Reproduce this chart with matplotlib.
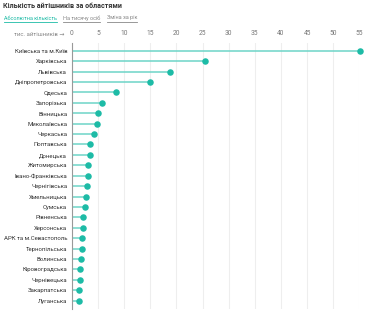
import matplotlib
matplotlib.use("Agg")
import matplotlib.pyplot as plt

plt.rcParams['font.family'] = ['Roboto', 'DejaVu Sans']

regions = ['Київська та м.Київ', 'Харківська', 'Львівська', 'Дніпропетровська',
           'Одеська', 'Запорізька', 'Вінницька', 'Миколаївська', 'Черкаська',
           'Полтавська', 'Донецька', 'Житомирська', 'Івано-Франківська',
           'Чернігівська', 'Хмельницька', 'Сумська', 'Рівненська', 'Херсонська',
           'АРК та м.Севастополь', 'Тернопільська', 'Волинська', 'Кіровоградська',
           'Чернівецька', 'Закарпатська', 'Луганська']
it_workers = [55.1, 25.5, 18.7, 15.0, 8.4, 5.8, 4.9, 4.7, 4.2, 3.4, 3.5, 3.1,
              3.0, 2.9, 2.6, 2.4, 2.2, 2.1, 2.0, 1.9, 1.7, 1.6, 1.6, 1.3, 1.3]
ticks = [0, 5, 10, 15, 20, 25, 30, 35, 40, 45, 50, 55]
tabs = ['Абсолютна кількість', 'На тисячу осіб', 'Зміна за рік']

W, H = 382, 324
fig = plt.figure(figsize=(W / 100, H / 100), dpi=100)
ax = fig.add_axes([72 / W, 1 - 309 / H, (359.3 - 72) / W, (309 - 43) / H])

ys = list(range(len(regions)))
ax.hlines(ys, 0, it_workers, color='#6dd5c8', lw=1.1, zorder=2)
ax.scatter(it_workers, ys, s=22, color='#1dbba6', zorder=3, clip_on=False, linewidths=0)

ax.set_xlim(0, 55)
ax.set_ylim(24.8, -0.74)
ax.set_xticks(ticks)
ax.set_yticks(ys)
ax.set_yticklabels(regions, fontsize=4.3, color='#333333')
ax.xaxis.tick_top()
ax.tick_params(axis='x', length=0, pad=4, labelsize=4.8, labelcolor='#777777')
ax.tick_params(axis='y', length=0, pad=3.5)
ax.grid(axis='x', color='#eeeeee', lw=0.8, zorder=0)
for s in ['top', 'right', 'bottom']:
    ax.spines[s].set_visible(False)
ax.spines['left'].set_color('#999999')
ax.spines['left'].set_linewidth(0.8)
ax.set_axisbelow(True)

fig.text(64 / W, 1 - 35 / H, 'тис. айтішників →', ha='right', va='center',
         fontsize=4.3, color='#888888')

fig.text(3 / W, 1 - 6 / H, 'Кількість айтішників за областями', ha='left',
         va='center', fontsize=5.1, fontweight='bold', color='#333333')
tab_x = [4, 63, 107]
tab_col = ['#1dbba6', '#888888', '#888888']
for x, t, c in zip(tab_x, tabs, tab_col):
    txt = fig.text(x / W, 1 - 18 / H, t, ha='left', va='center', fontsize=4.0, color=c)
    fig.canvas.draw()
    bb = txt.get_window_extent()
    fig.add_artist(plt.Line2D([bb.x0 / W, bb.x1 / W], [1 - 22 / H, 1 - 22 / H],
                              color=c, lw=0.6, transform=fig.transFigure))

fig.savefig('out.png', dpi=100)
